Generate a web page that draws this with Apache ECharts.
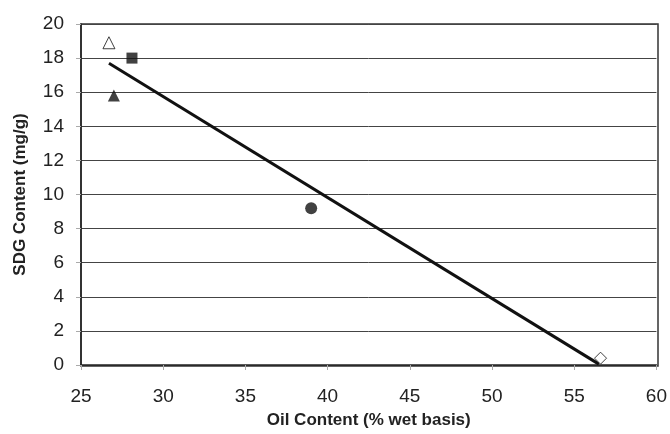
<!DOCTYPE html>
<html>
<head>
<meta charset="utf-8">
<script src="https://cdn.jsdelivr.net/npm/echarts@6/dist/echarts.min.js"></script>
<style>
  html, body { margin: 0; padding: 0; background: #fff; }
  #main { width: 670px; height: 434px; }
</style>
</head>
<body>
<div id="main"></div>
<script>
// data
var openTriangle = [[26.7, 18.9]];
var filledSquare = [[28.1, 18.0]];
var filledTriangle = [[27.0, 15.8]];
var filledCircle = [[39.0, 9.2]];
var openDiamond = [[56.6, 0.4]];
var fitLine = [[26.7, 17.7], [56.5, 0.05]];

var chart = echarts.init(document.getElementById('main'));
var font = 'Liberation Sans, Arial, sans-serif';

chart.setOption({
  animation: false,
  grid: { left: 81, right: 12, top: 24, bottom: 68 },
  xAxis: {
    type: 'value', min: 25, max: 60, interval: 5,
    name: 'Oil Content (% wet basis)', nameLocation: 'middle', nameGap: 47,
    nameTextStyle: { fontFamily: font, fontSize: 17, fontWeight: 'bold', color: '#222' },
    axisLine: { show: true, lineStyle: { color: '#222', width: 1.5 } },
    axisTick: { show: true, length: 5, lineStyle: { color: '#aaa' } },
    axisLabel: { fontFamily: font, fontSize: 19, color: '#222', margin: 22 },
    splitLine: { show: false }
  },
  yAxis: {
    type: 'value', min: 0, max: 20, interval: 2,
    name: 'SDG Content (mg/g)', nameLocation: 'middle', nameGap: 52,
    nameTextStyle: { fontFamily: font, fontSize: 17, fontWeight: 'bold', color: '#222' },
    axisLine: { show: true, lineStyle: { color: '#222', width: 1.5 } },
    axisTick: { show: true, length: 5, lineStyle: { color: '#aaa' } },
    axisLabel: { fontFamily: font, fontSize: 19, color: '#222', margin: 17 },
    splitLine: { show: true, lineStyle: { color: '#444', width: 1 } }
  },
  series: [
    {
      type: 'line', data: fitLine, symbol: 'none',
      lineStyle: { color: '#111', width: 3 }, z: 1
    },
    {
      type: 'scatter', data: openTriangle, symbol: 'triangle', symbolSize: 12,
      itemStyle: { color: '#fff', borderColor: '#111', borderWidth: 1 }
    },
    {
      type: 'scatter', data: filledSquare, symbol: 'rect', symbolSize: 11,
      itemStyle: { color: '#111' }
    },
    {
      type: 'scatter', data: filledTriangle, symbol: 'triangle', symbolSize: 12,
      itemStyle: { color: '#111' }
    },
    {
      type: 'scatter', data: filledCircle, symbol: 'circle', symbolSize: 12,
      itemStyle: { color: '#111' }
    },
    {
      type: 'scatter', data: openDiamond, symbol: 'diamond', symbolSize: 12,
      itemStyle: { color: '#fff', borderColor: '#111', borderWidth: 1 }
    }
  ],
  graphic: [{
    type: 'rect',
    shape: { x: 81, y: 24, width: 577, height: 342 },
    style: { fill: 'none', stroke: '#333', lineWidth: 1.5 },
    silent: true, z: 0
  }]
});
</script>
</body>
</html>
